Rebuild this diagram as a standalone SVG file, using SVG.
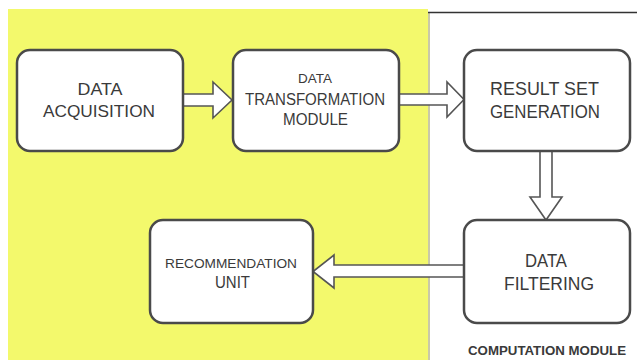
<svg xmlns="http://www.w3.org/2000/svg" width="637" height="360" viewBox="0 0 637 360">
<style>
.box{fill:#fff;stroke:#4a4a4a;stroke-width:2.5}
.arr{fill:#fff;stroke:#555;stroke-width:1.6;stroke-linejoin:miter}
.t{font-family:"Liberation Sans",Arial,sans-serif;fill:#3a3a3a;text-anchor:middle}
</style>
<rect x="0" y="0" width="637" height="360" fill="#fff"/>
<rect x="8" y="9" width="420" height="351" fill="#f3f96c"/>
<line x1="429" y1="12" x2="429" y2="360" stroke="#c9c9a8" stroke-width="2"/>
<line x1="428" y1="12.5" x2="637" y2="12.5" stroke="#333" stroke-width="1.5"/>
<g id="connectors">
<polygon class="arr" points="183,94 213,94 213,82 232,100 213,118 213,106 183,106"/>
<polygon class="arr" points="399,94 447,94 447,82 464,99.5 447,117 447,105 399,105"/>
<polygon class="arr" points="540,151 540,197 530,197 546,220 562,197 552,197 552,151"/>
<polygon class="arr" points="464,265 334,265 334,255 313,271.5 334,288 334,277 464,277"/>
</g>
<g id="data-acquisition">
<rect class="box" x="17" y="50" width="166" height="101" rx="13"/>
<text class="t" x="100" y="95" font-size="17" textLength="45" lengthAdjust="spacingAndGlyphs">DATA</text>
<text class="t" x="99" y="117" font-size="17" textLength="112" lengthAdjust="spacingAndGlyphs">ACQUISITION</text>
</g>
<g id="data-transformation">
<rect class="box" x="233" y="50" width="166" height="101" rx="13"/>
<text class="t" x="315" y="83" font-size="13" textLength="34" lengthAdjust="spacingAndGlyphs">DATA</text>
<text class="t" x="315" y="105" font-size="16" textLength="140" lengthAdjust="spacingAndGlyphs">TRANSFORMATION</text>
<text class="t" x="315.5" y="125" font-size="16" textLength="65" lengthAdjust="spacingAndGlyphs">MODULE</text>
</g>
<g id="result-set-generation">
<rect class="box" x="464" y="50" width="166" height="101" rx="13"/>
<text class="t" x="544.5" y="95" font-size="18" textLength="109" lengthAdjust="spacingAndGlyphs">RESULT SET</text>
<text class="t" x="545" y="118" font-size="18" textLength="110" lengthAdjust="spacingAndGlyphs">GENERATION</text>
</g>
<g id="data-filtering">
<rect class="box" x="464" y="220" width="166" height="103" rx="13"/>
<text class="t" x="546" y="267" font-size="18" textLength="42" lengthAdjust="spacingAndGlyphs">DATA</text>
<text class="t" x="549" y="290" font-size="18" textLength="90" lengthAdjust="spacingAndGlyphs">FILTERING</text>
</g>
<g id="recommendation-unit">
<rect class="box" x="150" y="220" width="163" height="103" rx="13"/>
<text class="t" x="231" y="268" font-size="13" textLength="132" lengthAdjust="spacingAndGlyphs">RECOMMENDATION</text>
<text class="t" x="232.5" y="288" font-size="16" textLength="35" lengthAdjust="spacingAndGlyphs">UNIT</text>
</g>
<text class="t" x="547" y="355" font-size="12" font-weight="bold" textLength="158" lengthAdjust="spacingAndGlyphs">COMPUTATION MODULE</text>
</svg>
